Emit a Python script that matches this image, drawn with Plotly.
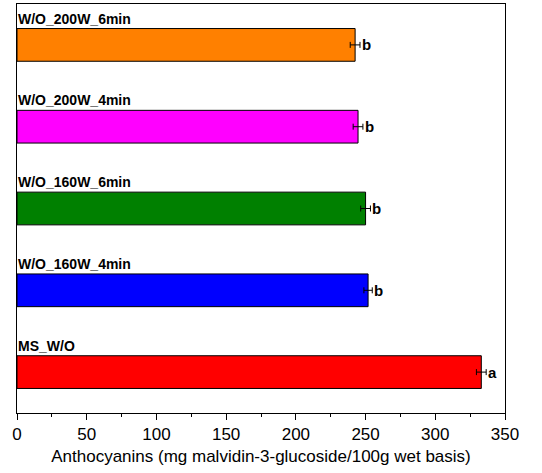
import plotly.graph_objects as go

categories = ["MS_W/O", "W/O_160W_4min", "W/O_160W_6min", "W/O_200W_4min", "W/O_200W_6min"]
values = [333.0, 251.8, 250.0, 244.6, 242.5]
errors = [3.5, 3.0, 3.5, 3.5, 3.5]
letters = ["a", "b", "b", "b", "b"]
colors = ["#FF0000", "#0000FF", "#008000", "#FF00FF", "#FF8000"]

fig = go.Figure()
fig.add_trace(go.Bar(
    y=list(range(len(categories))), x=values, orientation="h",
    marker=dict(color=colors, line=dict(color="black", width=1)),
    width=0.4,
    error_x=dict(type="data", array=errors, color="black", thickness=1, width=3),
    showlegend=False,
))

annotations = []
for i, (c, v, e, l) in enumerate(zip(categories, values, errors, letters)):
    annotations.append(dict(x=0, y=i + 0.2, xref="x", yref="y", text="<b>%s</b>" % c,
                            showarrow=False, xanchor="left", yanchor="bottom", xshift=-1, yshift=0,
                            font=dict(family="Liberation Sans, Arial", size=14, color="black")))
    annotations.append(dict(x=v + e, y=i, xref="x", yref="y", text="<b>%s</b>" % l,
                            showarrow=False, xanchor="left", yanchor="middle", xshift=0,
                            font=dict(family="Liberation Sans, Arial", size=15, color="black")))

fig.update_layout(
    width=542, height=473,
    margin=dict(l=17, r=37, t=4, b=60),
    paper_bgcolor="white", plot_bgcolor="white",
    font=dict(family="Liberation Sans, Arial", size=17, color="black"),
    annotations=annotations,
    xaxis=dict(range=[0, 350], tickvals=[0, 50, 100, 150, 200, 250, 300, 350],
               ticks="outside", ticklen=6, tickwidth=1, tickcolor="black",
               minor=dict(tickvals=[25, 75, 125, 175, 225, 275, 325], ticks="outside", ticklen=3, tickcolor="black"),
               showline=True, linecolor="black", linewidth=1, mirror=True,
               showgrid=False, zeroline=False,
               title=dict(text="Anthocyanins (mg malvidin-3-glucoside/100g wet basis)", standoff=6,
                          font=dict(size=17)),
               tickfont=dict(size=17)),
    yaxis=dict(range=[-0.5, 4.5], showticklabels=False, ticks="",
               showline=True, linecolor="black", linewidth=1, mirror=True,
               showgrid=False, zeroline=False),
)

fig.write_html("out.html")
